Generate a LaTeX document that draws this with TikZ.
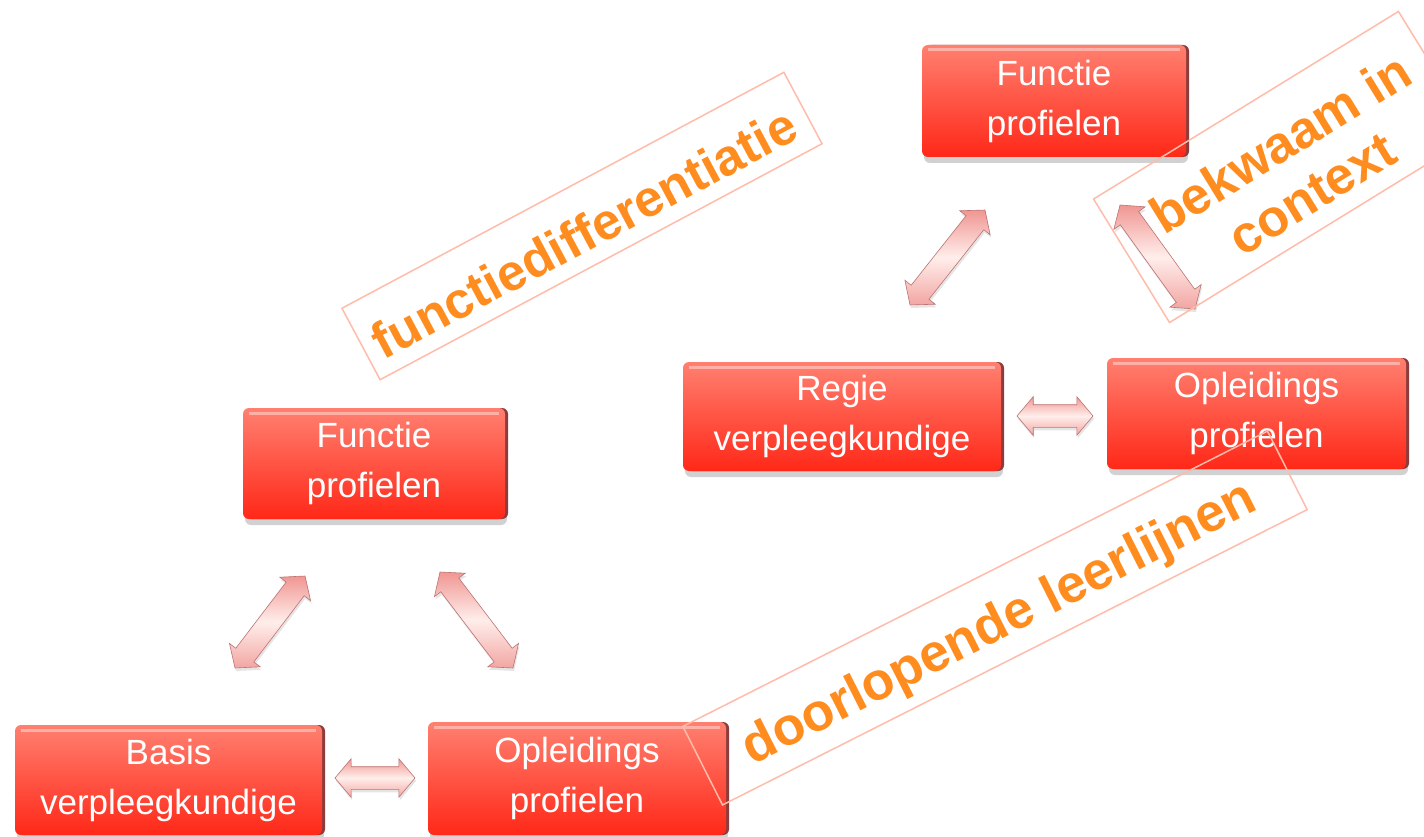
\documentclass[tikz,border=0pt]{standalone}
\usepackage{fontspec}
\setmainfont{Liberation Sans}
\usetikzlibrary{shapes.arrows,shadows,calc}
\definecolor{boxtop}{RGB}{255,128,112}
\definecolor{boxbot}{RGB}{255,40,24}
\definecolor{boxedge}{RGB}{140,60,60}
\definecolor{arrpink}{RGB}{240,150,146}
\definecolor{arrlight}{RGB}{255,238,235}
\definecolor{arredge}{RGB}{165,100,100}
\definecolor{tagline}{RGB}{255,188,170}
\definecolor{tagtext}{RGB}{255,140,30}
\begin{document}
\begin{tikzpicture}[x=1pt,y=-1pt,
  pbox/.style={rectangle, rounded corners=6pt, inner sep=0pt,
    top color=boxtop, bottom color=boxbot, text=white,
    font=\fontsize{35}{50}\selectfont, align=center,
    general shadow={fill=black, opacity=0.18, shadow xshift=2pt, shadow yshift=-6pt},
    general shadow={fill=boxedge, shadow xshift=3pt, shadow yshift=0pt},
    path picture={\draw[line width=3pt, white, opacity=0.4]
      ([xshift=6pt,yshift=-5pt]path picture bounding box.north west) --
      ([xshift=-6pt,yshift=-5pt]path picture bounding box.north east);}},
  dbl/.style={double arrow, inner xsep=0pt, inner ysep=11pt,
    double arrow head extend=8pt, double arrow tip angle=100,
    top color=arrpink, bottom color=arrpink!85!white, middle color=arrlight,
    draw=arredge!70!arrpink, line width=0.6pt,
    drop shadow={opacity=0.2, shadow xshift=1pt, shadow yshift=-3pt}},
  tagbox/.style={rectangle, draw=tagline, line width=1.5pt, inner sep=0pt},
  tagtxt/.style={text=tagtext, font=\fontsize{53}{59}\selectfont\bfseries, align=center, inner sep=0pt}
]
\path[use as bounding box, fill=white] (0,0) rectangle (1424,837);
\clip (0,0) rectangle (1424,837);

% boxes
\node[pbox, minimum width=264pt, minimum height=112pt] (topF) at (1054,101) {Functie\\profielen};
\node[pbox, minimum width=318pt, minimum height=109pt] (regie) at (842,416.5) {Regie\\verpleegkundige};
\node[pbox, minimum width=299pt, minimum height=111pt] (oplR) at (1256.5,413.5) {Opleidings\\profielen};
\node[pbox, minimum width=262pt, minimum height=111pt] (leftF) at (374,463.5) {Functie\\profielen};
\node[pbox, minimum width=307pt, minimum height=110pt] (basis) at (168.5,780) {Basis\\verpleegkundige};
\node[pbox, minimum width=298pt, minimum height=113pt] (oplB) at (577,778.5) {Opleidings\\profielen};

% arrow end points
\coordinate (a1s) at (235,668);  \coordinate (a1e) at (305,576);
\coordinate (a2s) at (440,572);  \coordinate (a2e) at (513,668);
\coordinate (h1s) at (335,778);  \coordinate (h1e) at (415,778);
\coordinate (a3s) at (910,305);  \coordinate (a3e) at (985,210);
\coordinate (a4s) at (1120,205); \coordinate (a4e) at (1195,309);
\coordinate (h2s) at (1017,416); \coordinate (h2e) at (1093,416);

\foreach \ps/\pe/\nm in {a1s/a1e/arr1, a2s/a2e/arr2, h1s/h1e/arr3, a3s/a3e/arr4, a4s/a4e/arr5, h2s/h2e/arr6}{
  \path let \p1=($(\pe)-(\ps)$), \n1={veclen(\x1,\y1)} in
    (\ps) -- node[dbl, sloped, minimum height=\n1] (\nm) {} (\pe);
}

% tags
\node[tagbox, rotate=28.1, minimum width=501pt, minimum height=81pt] (t1) at (582,226) {};
\node[tagtxt, rotate=28.1, font=\fontsize{51}{59}\selectfont\bfseries] (t1txt) at (584,233) {functiedifferentiatie};
\node[tagbox, rotate=26.8, minimum width=655pt, minimum height=88pt] (t2) at (995,618) {};
\node[tagtxt, rotate=26.8] (t2txt) at (1000,625) {doorlopende leerlijnen};
\node[tagbox, rotate=31.6, minimum width=358pt, minimum height=145pt] (t3) at (1284,167) {};
\node[tagtxt, rotate=31.6, font=\fontsize{52}{59}\selectfont\bfseries] (t3txt) at (1296,168) {bekwaam in\\context};
\end{tikzpicture}
\end{document}
